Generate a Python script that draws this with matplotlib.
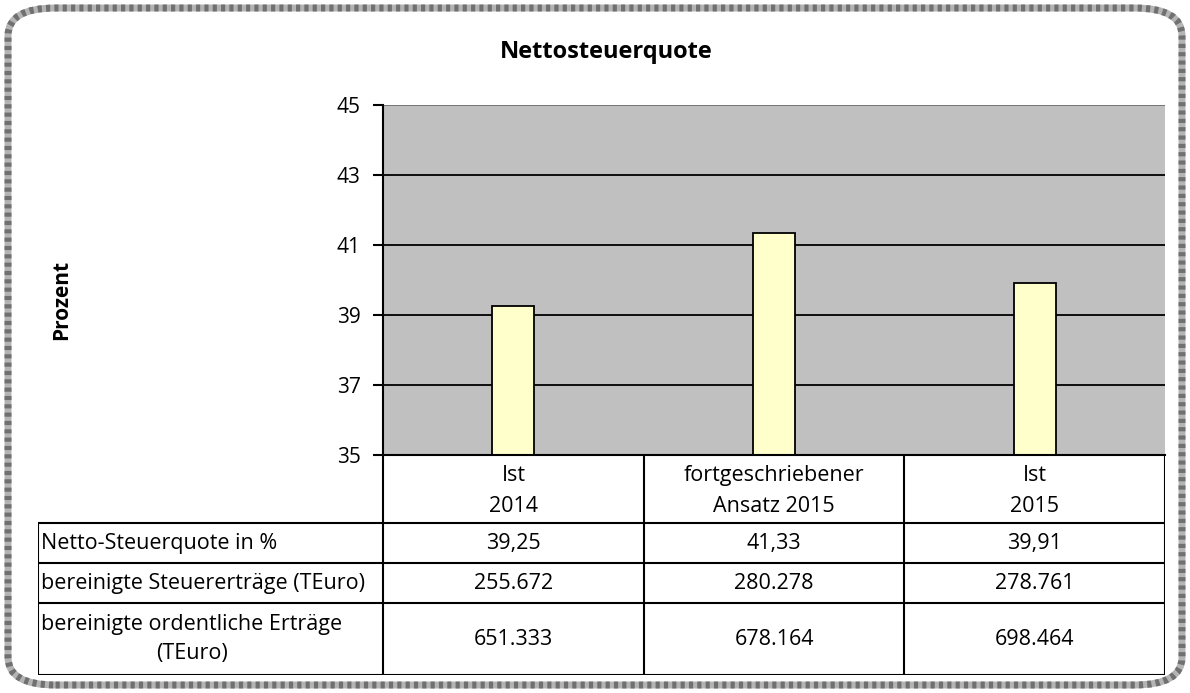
import matplotlib.pyplot as plt
from matplotlib.patches import FancyBboxPatch

plt.rcParams['font.family'] = ['Open Sans', 'DejaVu Sans']

# Data
categories = ["Ist\n2014", "fortgeschriebener\nAnsatz 2015", "Ist\n2015"]
quote = [39.25, 41.33, 39.91]
row_labels = ["Netto-Steuerquote in %",
              "bereinigte Steuererträge (TEuro)",
              "bereinigte ordentliche Erträge\n(TEuro)"]
quote_txt = ["39,25", "41,33", "39,91"]
steuer_txt = ["255.672", "280.278", "278.761"]
ertraege_txt = ["651.333", "678.164", "698.464"]
yticks = [35, 37, 39, 41, 43, 45]

W, H = 1190, 693
fig = plt.figure(figsize=(W / 100, H / 100), dpi=100)

# Rounded frame (patterned grey look)
for ec, ls in [("#b4b4b4", "-"), ("#707070", (0, (0.6, 0.6)))]:
    frame = FancyBboxPatch((8 / W, 8 / H), 1 - 16 / W, 1 - 16 / H,
                           boxstyle="round,pad=0,rounding_size=0.04",
                           transform=fig.transFigure, facecolor="none",
                           edgecolor=ec, linewidth=5, linestyle=ls)
    fig.patches.append(frame)

fig.text(606 / W, 1 - 52 / H, "Nettosteuerquote", ha="center", va="center",
         fontsize=17, fontweight="bold")
fig.text(62 / W, 1 - 300 / H, "Prozent", ha="center", va="center",
         fontsize=15, fontweight="bold", rotation=90)

# Plot area
x0, x1, y0, y1 = 383, 1165, 105, 455
ax = fig.add_axes([x0 / W, 1 - y1 / H, (x1 - x0) / W, (y1 - y0) / H])
ax.set_facecolor("#C0C0C0")
ax.set_xlim(-0.5, len(categories) - 0.5)
ax.set_ylim(35, 45)
ax.set_yticks(yticks)
ax.set_yticklabels([str(t) for t in yticks], fontsize=15)
ax.tick_params(axis="y", length=7, width=1.5, pad=9)
ax.set_xticks([])
for t in yticks[1:]:
    ax.axhline(t, color="black" if t < 45 else "#707070", linewidth=1.3, zorder=1)
ax.bar(range(len(categories)), quote, width=0.16, bottom=0,
       color="#FFFFCC", edgecolor="black", linewidth=1.3, zorder=2)
for s in ["top", "right"]:
    ax.spines[s].set_visible(False)
ax.spines["left"].set_linewidth(1.5)
ax.spines["bottom"].set_linewidth(1.5)

# Data table
tx0, ty0, ty1 = 38, 455, 675
tab = fig.add_axes([tx0 / W, 1 - ty1 / H, (x1 - tx0) / W, (ty1 - ty0) / H])
tab.set_xlim(tx0, x1)
tab.set_ylim(ty1, ty0)
tab.axis("off")
col_edges = [x0, 644, 904, x1]
row_edges = [455, 523, 563, 603, 675]
lw = 1.5
for xe in col_edges:
    tab.plot([xe, xe], [row_edges[0], row_edges[-1]], color="black", lw=lw)
tab.plot([tx0, tx0], [row_edges[1], row_edges[-1]], color="black", lw=lw)
for ye in row_edges[1:]:
    tab.plot([tx0, x1], [ye, ye], color="black", lw=lw)

fs = 15.5
for i, c in enumerate(categories):
    cx = (col_edges[i] + col_edges[i + 1]) / 2
    tab.text(cx, (row_edges[0] + row_edges[1]) / 2 + 2, c, ha="center", va="center",
             fontsize=fs, linespacing=1.65)

rows = [quote_txt, steuer_txt, ertraege_txt]
for r, (label, vals) in enumerate(zip(row_labels, rows)):
    cy = (row_edges[r + 1] + row_edges[r + 2]) / 2
    tab.text(tx0 + 3, cy, label, ha="left", va="center", fontsize=fs,
             multialignment="center", linespacing=1.55)
    for i, v in enumerate(vals):
        cx = (col_edges[i] + col_edges[i + 1]) / 2
        tab.text(cx, cy, v, ha="center", va="center", fontsize=fs)

fig.savefig("out.png", dpi=100)
